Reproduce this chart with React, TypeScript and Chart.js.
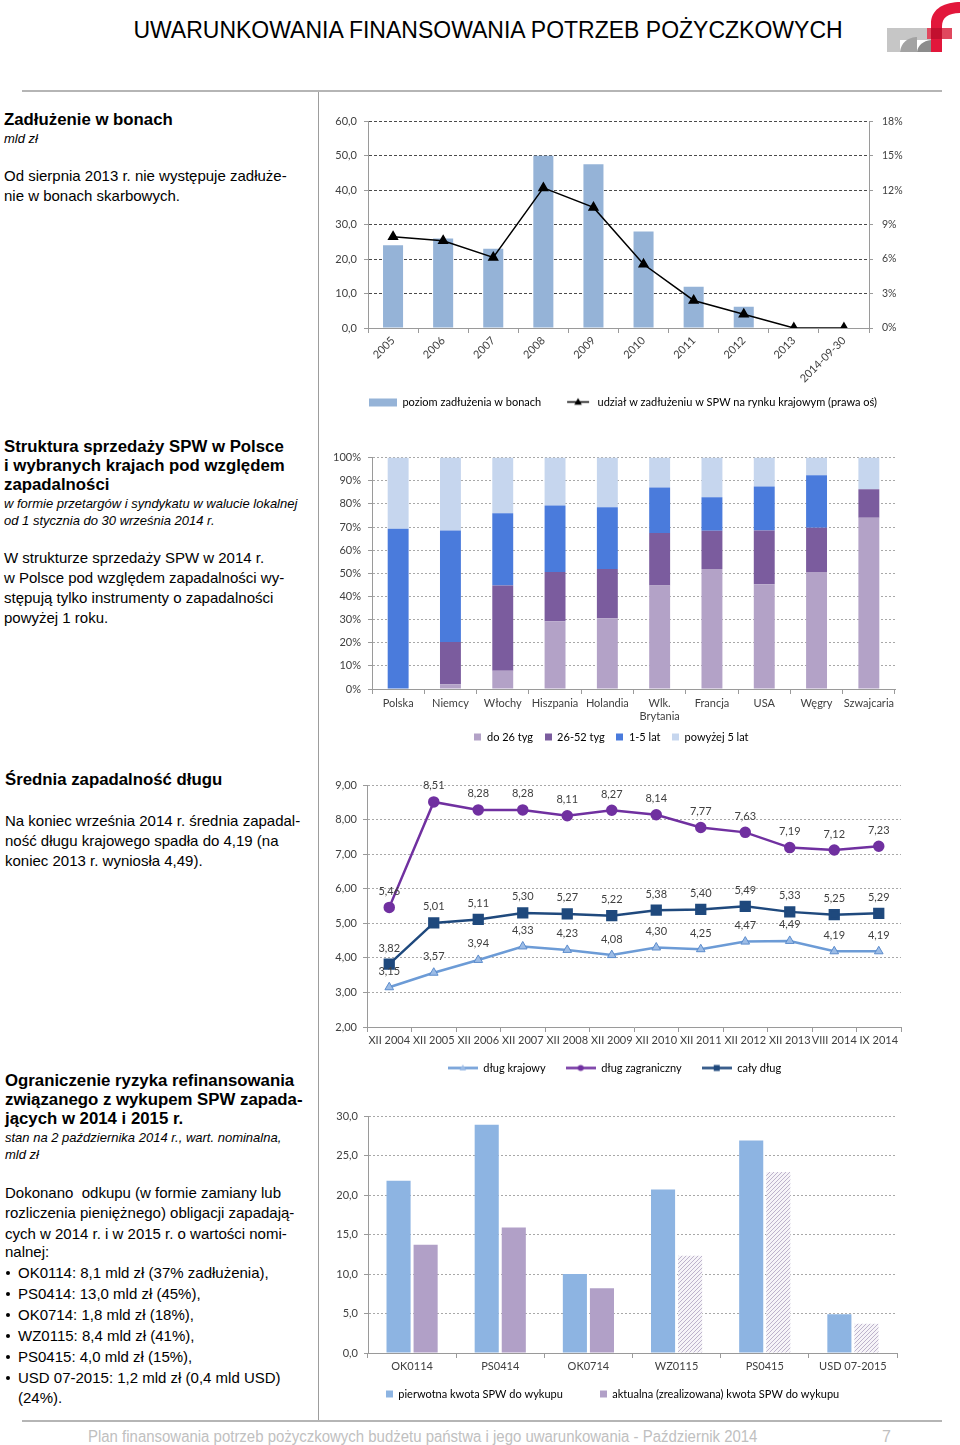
import React, { useEffect, useRef } from 'react';
import { Chart, registerables } from 'chart.js';

Chart.register(...registerables);

const FONT = 'Lato, "Open Sans", "Noto Sans", sans-serif';
Chart.defaults.font.family = FONT;
Chart.defaults.font.size = 11;
Chart.defaults.color = '#404040';

// ---------- Chart 1: Zadłużenie w bonach ----------
const billYears = ['2005', '2006', '2007', '2008', '2009', '2010', '2011', '2012', '2013', '2014-09-30'];
const billDebt = [24.0, 26.0, 23.0, 50.0, 47.5, 28.0, 12.0, 6.2, 0, 0];
const billShare = [7.95, 7.6, 6.15, 12.2, 10.5, 5.55, 2.4, 1.2, 0, 0];
const billLeftTicks = [0, 10, 20, 30, 40, 50, 60];
const billRightTicks = [0, 3, 6, 9, 12, 15, 18];
const billLegend = ['poziom zadłużenia w bonach', 'udział w zadłużeniu w SPW na rynku krajowym (prawa oś)'];

// ---------- Chart 2: Struktura sprzedaży ----------
const countries: (string | string[])[] = ['Polska', 'Niemcy', 'Włochy', 'Hiszpania', 'Holandia', ['Wlk.', 'Brytania'], 'Francja', 'USA', 'Węgry', 'Szwajcaria'];
const upTo26w = [0, 2.1, 7.9, 29.3, 30.6, 44.7, 51.9, 45.3, 50.6, 74.0];
const w26to52 = [0, 18.2, 36.8, 21.3, 21.3, 22.7, 16.5, 23.2, 19.1, 12.3];
const y1to5 = [69.3, 48.2, 31.3, 28.7, 26.6, 19.7, 14.5, 19.0, 22.7, 0];
const over5y = [30.7, 31.5, 24.0, 20.7, 21.5, 12.9, 17.1, 12.5, 7.6, 13.7];
const structLegend = ['do 26 tyg', '26-52 tyg', '1-5 lat', 'powyżej 5 lat'];
const structTicks = [0, 10, 20, 30, 40, 50, 60, 70, 80, 90, 100];

// ---------- Chart 3: Średnia zapadalność ----------
const matLabels = ['XII 2004', 'XII 2005', 'XII 2006', 'XII 2007', 'XII 2008', 'XII 2009', 'XII 2010', 'XII 2011', 'XII 2012', 'XII 2013', 'VIII 2014', 'IX 2014'];
const matDomestic = [3.15, 3.57, 3.94, 4.33, 4.23, 4.08, 4.30, 4.25, 4.47, 4.49, 4.19, 4.19];
const matForeign = [5.46, 8.51, 8.28, 8.28, 8.11, 8.27, 8.14, 7.77, 7.63, 7.19, 7.12, 7.23];
const matTotal = [3.82, 5.01, 5.11, 5.30, 5.27, 5.22, 5.38, 5.40, 5.49, 5.33, 5.25, 5.29];
const matLegend = ['dług krajowy', 'dług zagraniczny', 'cały dług'];
const matTicks = [2, 3, 4, 5, 6, 7, 8, 9];

// ---------- Chart 4: Wykup SPW ----------
const bondLabels = ['OK0114', 'PS0414', 'OK0714', 'WZ0115', 'PS0415', 'USD 07-2015'];
const bondOriginal = [21.8, 28.9, 10.0, 20.7, 26.9, 4.9];
const bondCurrent = [13.7, 15.9, 8.2, 12.3, 22.9, 3.7];
const bondHatched = [false, false, false, true, true, true];
const bondLegend = ['pierwotna kwota SPW do wykupu', 'aktualna (zrealizowana) kwota SPW do wykupu'];
const bondTicks = [0, 5, 10, 15, 20, 25, 30];

const AXIS = '#9a9a9a';

const comma = (v: number, d: number) => v.toFixed(d).replace('.', ',');

function mkCanvas(w: number, h: number) {
  const c = document.createElement('canvas');
  c.width = w;
  c.height = h;
  return c;
}

function rectIcon(w: number, h: number, fill: string | CanvasPattern) {
  const c = mkCanvas(w, 11);
  const x = c.getContext('2d')!;
  x.fillStyle = fill as any;
  x.fillRect(0, Math.round((11 - h) / 2), w, h);
  return c;
}

function markerPath(x: CanvasRenderingContext2D, kind: string, cx: number, cy: number, r: number) {
  x.beginPath();
  if (kind === 'triangle') {
    x.moveTo(cx, cy - r);
    x.lineTo(cx + r * 0.95, cy + r * 0.7);
    x.lineTo(cx - r * 0.95, cy + r * 0.7);
    x.closePath();
  } else if (kind === 'circle') {
    x.arc(cx, cy, r, 0, Math.PI * 2);
  } else {
    x.rect(cx - r, cy - r, 2 * r, 2 * r);
  }
}

function lineIcon(w: number, lineLen: number, color: string, lw: number, kind: string, fill: string, r: number) {
  const c = mkCanvas(w, 11);
  const x = c.getContext('2d')!;
  const cx = w / 2;
  x.strokeStyle = color;
  x.lineWidth = lw;
  x.beginPath();
  x.moveTo(cx - lineLen / 2, 5.5);
  x.lineTo(cx + lineLen / 2, 5.5);
  x.stroke();
  markerPath(x, kind, cx, 5.5, r);
  x.fillStyle = fill;
  x.fill();
  return c;
}

function hatch() {
  const c = mkCanvas(4, 4);
  const x = c.getContext('2d')!;
  x.fillStyle = '#f6f4f8';
  x.fillRect(0, 0, 4, 4);
  x.strokeStyle = '#bdb3cc';
  x.lineWidth = 1;
  x.beginPath();
  x.moveTo(0, 4);
  x.lineTo(4, 0);
  x.moveTo(-1, 1);
  x.lineTo(1, -1);
  x.moveTo(3, 5);
  x.lineTo(5, 3);
  x.stroke();
  return x.createPattern(c, 'repeat')!;
}

function padText(text: string, gap: number) {
  const ctx = mkCanvas(10, 10).getContext('2d')!;
  ctx.font = `11px ${FONT}`;
  const sw = ctx.measureText(' ').width || 2.5;
  return text + ' '.repeat(Math.max(0, Math.round(gap / sw)));
}

function legendOpts(texts: string[], icons: HTMLCanvasElement[], iconW: number, gap: number) {
  return {
    display: true,
    position: 'bottom' as const,
    align: 'center' as const,
    labels: {
      usePointStyle: true,
      pointStyleWidth: iconW,
      padding: 6,
      color: '#404040',
      font: { size: 11, family: FONT },
      generateLabels: () =>
        texts.map((t, i) => ({
          text: i < texts.length - 1 ? padText(t, gap - 6) : t,
          pointStyle: icons[i],
          fillStyle: 'rgba(0,0,0,0)',
          strokeStyle: 'rgba(0,0,0,0)',
          lineWidth: 0,
          hidden: false,
          datasetIndex: i,
        })),
    },
  };
}

const valueLabels = {
  id: 'valueLabels',
  afterDatasetsDraw(chart: any) {
    const ctx = chart.ctx as CanvasRenderingContext2D;
    ctx.save();
    ctx.font = `11px ${FONT}`;
    ctx.fillStyle = '#404040';
    ctx.textAlign = 'center';
    ctx.textBaseline = 'middle';
    chart.data.datasets.forEach((ds: any, i: number) => {
      const meta = chart.getDatasetMeta(i);
      meta.data.forEach((pt: any, j: number) => {
        ctx.fillText(comma(ds.data[j], 2), pt.x, pt.y - 16);
      });
    });
    ctx.restore();
  },
};

function makeBills(cv: HTMLCanvasElement) {
  return new Chart(cv, {
    type: 'bar',
    data: {
      labels: billYears,
      datasets: [
        {
          type: 'line',
          label: billLegend[1],
          data: billShare,
          yAxisID: 'y1',
          borderColor: '#000',
          backgroundColor: '#000',
          borderWidth: 1.5,
          pointStyle: 'triangle',
          pointRadius: 5,
          order: 0,
        } as any,
        {
          type: 'bar',
          label: billLegend[0],
          data: billDebt,
          yAxisID: 'y',
          backgroundColor: '#95B3D7',
          barPercentage: 0.4,
          categoryPercentage: 1,
          order: 1,
        },
      ],
    },
    options: {
      responsive: false,
      animation: false,
      layout: { padding: { top: 15, right: 0, bottom: 2.5, left: 0 } },
      plugins: {
        tooltip: { enabled: false },
        legend: legendOpts(
          billLegend,
          [rectIcon(28, 8, '#95B3D7'), lineIcon(28, 22, '#000', 1.5, 'triangle', '#000', 4)],
          28,
          22
        ) as any,
      },
      scales: {
        x: {
          grid: { offset: true, drawOnChartArea: false, tickLength: 5, color: AXIS },
          border: { color: AXIS },
          ticks: { minRotation: 45, maxRotation: 45, autoSkip: false, padding: 1, font: { size: 11 } },
          afterFit: (s: any) => {
            s.height = 62.5;
          },
        },
        y: {
          position: 'left',
          min: billLeftTicks[0],
          max: billLeftTicks[billLeftTicks.length - 1],
          ticks: { stepSize: billLeftTicks[1] - billLeftTicks[0], padding: 7, callback: (v: any) => comma(Number(v), 1) },
          grid: { color: '#4a4a4a', tickColor: AXIS, tickLength: 4, tickBorderDash: [] },
          border: { color: AXIS, dash: [3, 2] },
          afterFit: (s: any) => {
            s.width = 40;
          },
        },
        y1: {
          position: 'right',
          min: billRightTicks[0],
          max: billRightTicks[billRightTicks.length - 1],
          ticks: { stepSize: billRightTicks[1] - billRightTicks[0], padding: 9, font: { size: 10.5 }, callback: (v: any) => v + '%' },
          grid: { drawOnChartArea: false, tickColor: AXIS, tickLength: 4 },
          border: { color: AXIS },
          afterFit: (s: any) => {
            s.width = 49;
          },
        },
      },
    },
  });
}

function makeStructure(cv: HTMLCanvasElement) {
  const colors = ['#B3A2C7', '#7B5C9E', '#4A7BDC', '#C6D6EE'];
  const series = [upTo26w, w26to52, y1to5, over5y];
  return new Chart(cv, {
    type: 'bar',
    data: {
      labels: countries as any,
      datasets: series.map((d, i) => ({
        label: structLegend[i],
        data: d,
        backgroundColor: colors[i],
        barPercentage: 0.4,
        categoryPercentage: 1,
      })),
    },
    options: {
      responsive: false,
      animation: false,
      layout: { padding: { top: 13, right: 15, bottom: 1.5, left: 0 } },
      plugins: {
        tooltip: { enabled: false },
        legend: legendOpts(structLegend, colors.map((c) => rectIcon(7, 7, c)), 7, 13) as any,
      },
      scales: {
        x: {
          stacked: true,
          grid: { offset: true, drawOnChartArea: false, tickLength: 5, color: AXIS },
          border: { color: AXIS },
          ticks: { maxRotation: 0, autoSkip: false, padding: 3 },
          afterFit: (s: any) => {
            s.height = 36.5;
          },
        },
        y: {
          stacked: true,
          min: structTicks[0],
          max: structTicks[structTicks.length - 1],
          ticks: { stepSize: structTicks[1] - structTicks[0], padding: 7, callback: (v: any) => v + '%' },
          grid: { color: '#a8a8a8', tickColor: AXIS, tickLength: 4, tickBorderDash: [] },
          border: { color: AXIS, dash: [2, 2] },
          afterFit: (s: any) => {
            s.width = 44;
          },
        },
      },
    },
  });
}

function makeMaturity(cv: HTMLCanvasElement) {
  return new Chart(cv, {
    type: 'line',
    data: {
      labels: matLabels,
      datasets: [
        {
          label: matLegend[0],
          data: matDomestic,
          borderColor: '#6C9BD6',
          backgroundColor: '#9CBCE6',
          pointBorderColor: '#5C8CCC',
          pointBorderWidth: 1,
          borderWidth: 2.5,
          pointStyle: 'triangle',
          pointRadius: 5,
        },
        {
          label: matLegend[1],
          data: matForeign,
          borderColor: '#7030A0',
          backgroundColor: '#7030A0',
          borderWidth: 2.5,
          pointStyle: 'circle',
          pointRadius: 4.5,
        },
        {
          label: matLegend[2],
          data: matTotal,
          borderColor: '#1F497D',
          backgroundColor: '#1F497D',
          borderWidth: 2.5,
          pointStyle: 'rect',
          pointRadius: 6.2,
        },
      ],
    },
    plugins: [valueLabels],
    options: {
      responsive: false,
      animation: false,
      layout: { padding: { top: 15, right: 9, bottom: 0.5, left: 0 } },
      plugins: {
        tooltip: { enabled: false },
        legend: legendOpts(
          matLegend,
          [
            lineIcon(30, 30, '#6C9BD6', 2.5, 'triangle', '#9CBCE6', 3.5),
            lineIcon(30, 30, '#7030A0', 2.5, 'circle', '#7030A0', 3),
            lineIcon(30, 30, '#1F497D', 2.5, 'rect', '#1F497D', 3),
          ],
          30,
          19
        ) as any,
      },
      scales: {
        x: {
          offset: true,
          grid: { offset: true, drawOnChartArea: false, tickLength: 5, color: AXIS },
          border: { color: AXIS },
          ticks: { maxRotation: 0, minRotation: 0, autoSkip: false, padding: 2 },
          afterFit: (s: any) => {
            s.height = 29.5;
          },
        },
        y: {
          min: matTicks[0],
          max: matTicks[matTicks.length - 1],
          ticks: { stepSize: matTicks[1] - matTicks[0], padding: 6, callback: (v: any) => comma(Number(v), 2) },
          grid: { color: '#a8a8a8', tickColor: AXIS, tickLength: 4, tickBorderDash: [] },
          border: { color: AXIS, dash: [2, 2] },
          afterFit: (s: any) => {
            s.width = 39;
          },
        },
      },
    },
  });
}

function makeBonds(cv: HTMLCanvasElement) {
  const pat = hatch();
  const purple = '#B1A0C7';
  return new Chart(cv, {
    type: 'bar',
    data: {
      labels: bondLabels,
      datasets: [
        {
          label: bondLegend[0],
          data: bondOriginal,
          backgroundColor: '#8DB4E2',
          barPercentage: 0.89,
          categoryPercentage: 0.614,
        },
        {
          label: bondLegend[1],
          data: bondCurrent,
          backgroundColor: bondHatched.map((h) => (h ? (pat as any) : purple)),
          barPercentage: 0.89,
          categoryPercentage: 0.614,
        },
      ],
    },
    options: {
      responsive: false,
      animation: false,
      layout: { padding: { top: 26, right: 13, bottom: 0.5, left: 0 } },
      plugins: {
        tooltip: { enabled: false },
        legend: legendOpts(bondLegend, [rectIcon(7, 7, '#8DB4E2'), rectIcon(7, 7, purple)], 7, 36) as any,
      },
      scales: {
        x: {
          grid: { offset: true, drawOnChartArea: false, tickLength: 5, color: AXIS },
          border: { color: AXIS },
          ticks: { maxRotation: 0, autoSkip: false, padding: 2 },
          afterFit: (s: any) => {
            s.height = 29.5;
          },
        },
        y: {
          min: bondTicks[0],
          max: bondTicks[bondTicks.length - 1],
          ticks: { stepSize: bondTicks[1] - bondTicks[0], padding: 6, callback: (v: any) => comma(Number(v), 1) },
          grid: { color: '#a8a8a8', tickColor: AXIS, tickLength: 4, tickBorderDash: [] },
          border: { color: AXIS, dash: [2, 2] },
          afterFit: (s: any) => {
            s.width = 40;
          },
        },
      },
    },
  });
}

function ChartBox({ left, top, width, height, make }: { left: number; top: number; width: number; height: number; make: (c: HTMLCanvasElement) => Chart }) {
  const ref = useRef<HTMLCanvasElement>(null);
  useEffect(() => {
    const chart = make(ref.current!);
    return () => chart.destroy();
  }, []);
  return (
    <div style={{ position: 'absolute', left, top, width, height }}>
      <canvas ref={ref} width={width} height={height} style={{ width, height, display: 'block' }} />
    </div>
  );
}

type Kind = 'h' | 'b' | 'i';
function TL({ x = 4, y, k, children }: { x?: number; y: number; k: Kind; children: React.ReactNode }) {
  const size = k === 'h' ? 16.8 : k === 'b' ? 15 : 13;
  const lh = Math.round(size * 1.3);
  return (
    <div
      style={{
        position: 'absolute',
        left: x,
        top: y - lh / 2,
        height: lh,
        lineHeight: lh + 'px',
        fontSize: size,
        fontWeight: k === 'h' ? 700 : 400,
        fontStyle: k === 'i' ? 'italic' : 'normal',
        whiteSpace: 'pre',
        color: '#000',
      }}
    >
      {children}
    </div>
  );
}

function Bullet({ y, children }: { y: number; children: React.ReactNode }) {
  return (
    <>
      <div style={{ position: 'absolute', left: 6, top: y - 2, width: 4, height: 4, borderRadius: 2, background: '#000' }} />
      <TL x={18} y={y} k="b">
        {children}
      </TL>
    </>
  );
}

function Logo() {
  return (
    <svg style={{ position: 'absolute', left: 880, top: 0 }} width={80} height={60} viewBox="880 0 80 60">
      <rect x={887} y={28} width={44} height={12} fill="#c6c6c6" />
      <rect x={887} y={40} width={13} height={12} fill="#c6c6c6" />
      <path d="M900 52 C901 43 907 38 916 37 L917 37 L917 52 Z" fill="#a3a3a3" />
      <path d="M917 52 C918 45 923 41 931 40 L931 52 Z" fill="#8c8c8c" />
      <rect x={927} y={28} width={25} height={11} fill="#e0485e" />
      <path d="M931 52 V24 C931 10 942 3 958 2 L960 2 L960 13 C948 13 942 18 942 26 V52 Z" fill="#e2173b" />
      <rect x={931} y={28} width={11} height={11} fill="#c2102f" />
    </svg>
  );
}

export default function App() {
  const footFont = '"Liberation Sans Narrow", "Liberation Sans", Arial, sans-serif';
  return (
    <div
      style={{
        position: 'absolute',
        left: 0,
        top: 0,
        width: 960,
        height: 1445,
        background: '#fff',
        overflow: 'hidden',
        fontFamily: '"Liberation Sans", Arial, sans-serif',
      }}
    >
      <div
        style={{
          position: 'absolute',
          left: 0,
          width: 976,
          top: 16,
          lineHeight: '28px',
          fontSize: 23,
          textAlign: 'center',
          whiteSpace: 'nowrap',
          color: '#000',
        }}
      >
        UWARUNKOWANIA FINANSOWANIA POTRZEB POŻYCZKOWYCH
      </div>
      <Logo />
      <div style={{ position: 'absolute', left: 22, top: 90, width: 920, height: 2, background: '#b5b5b5' }} />
      <div style={{ position: 'absolute', left: 318, top: 92, width: 1, height: 1329, background: '#9d9d9d' }} />
      <div style={{ position: 'absolute', left: 22, top: 1420, width: 920, height: 2, background: '#b5b5b5' }} />

      <TL y={120} k="h">Zadłużenie w bonach</TL>
      <TL y={138} k="i">mld zł</TL>
      <TL y={176} k="b">Od sierpnia 2013 r. nie występuje zadłuże-</TL>
      <TL y={196} k="b">nie w bonach skarbowych.</TL>

      <TL y={447} k="h">Struktura sprzedaży SPW w Polsce</TL>
      <TL y={466} k="h">i wybranych krajach pod względem</TL>
      <TL y={485} k="h">zapadalności</TL>
      <TL y={503} k="i">w formie przetargów i syndykatu w walucie lokalnej</TL>
      <TL y={520} k="i">od 1 stycznia do 30 września 2014 r.</TL>
      <TL y={558} k="b">W strukturze sprzedaży SPW w 2014 r.</TL>
      <TL y={578} k="b">w Polsce pod względem zapadalności wy-</TL>
      <TL y={598} k="b">stępują tylko instrumenty o zapadalności</TL>
      <TL y={618} k="b">powyżej 1 roku.</TL>

      <TL x={5} y={780} k="h">Średnia zapadalność długu</TL>
      <TL x={5} y={821} k="b">Na koniec września 2014 r. średnia zapadal-</TL>
      <TL x={5} y={841} k="b">ność długu krajowego spadła do 4,19 (na</TL>
      <TL x={5} y={861} k="b">koniec 2013 r. wyniosła 4,49).</TL>

      <TL x={5} y={1081} k="h">Ograniczenie ryzyka refinansowania</TL>
      <TL x={5} y={1100} k="h">związanego z wykupem SPW zapada-</TL>
      <TL x={5} y={1119} k="h">jących w 2014 i 2015 r.</TL>
      <TL x={5} y={1137} k="i">stan na 2 października 2014 r., wart. nominalna,</TL>
      <TL x={5} y={1154} k="i">mld zł</TL>
      <TL x={5} y={1193} k="b">Dokonano  odkupu (w formie zamiany lub</TL>
      <TL x={5} y={1213} k="b">rozliczenia pieniężnego) obligacji zapadają-</TL>
      <TL x={5} y={1234} k="b">cych w 2014 r. i w 2015 r. o wartości nomi-</TL>
      <TL x={5} y={1252} k="b">nalnej:</TL>
      <Bullet y={1273}>OK0114: 8,1 mld zł (37% zadłużenia),</Bullet>
      <Bullet y={1294}>PS0414: 13,0 mld zł (45%),</Bullet>
      <Bullet y={1315}>OK0714: 1,8 mld zł (18%),</Bullet>
      <Bullet y={1336}>WZ0115: 8,4 mld zł (41%),</Bullet>
      <Bullet y={1357}>PS0415: 4,0 mld zł (15%),</Bullet>
      <Bullet y={1378}>USD 07-2015: 1,2 mld zł (0,4 mld USD)</Bullet>
      <TL x={18} y={1398} k="b">(24%).</TL>

      <ChartBox left={328} top={106} width={590} height={314} make={makeBills} />
      <ChartBox left={328} top={444} width={582} height={310} make={makeStructure} />
      <ChartBox left={328} top={770} width={582} height={314} make={makeMaturity} />
      <ChartBox left={328} top={1090} width={582} height={320} make={makeBonds} />

      <div
        style={{
          position: 'absolute',
          left: 88,
          top: 1427,
          lineHeight: '20px',
          fontSize: 16,
          fontFamily: footFont,
          color: '#c0c0c0',
          whiteSpace: 'nowrap',
          transform: 'scaleX(0.935)',
          transformOrigin: 'left center',
        }}
      >
        Plan finansowania potrzeb pożyczkowych budżetu państwa i jego uwarunkowania - Październik 2014
      </div>
      <div
        style={{
          position: 'absolute',
          left: 882,
          top: 1427,
          lineHeight: '20px',
          fontSize: 16,
          fontFamily: footFont,
          color: '#c0c0c0',
        }}
      >
        7
      </div>
    </div>
  );
}
